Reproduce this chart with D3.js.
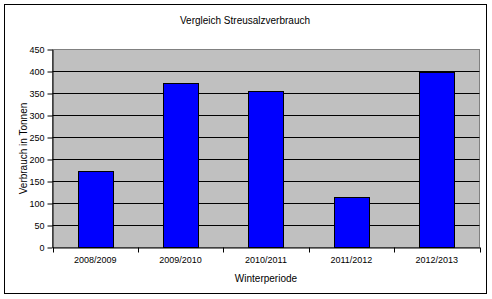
<!DOCTYPE html>
<html>
<head>
<meta charset="utf-8">
<script src="https://cdn.jsdelivr.net/npm/d3@7"></script>
<style>
  body { margin: 0; background: #fff; }
  svg text { font-family: "Liberation Sans", Arial, sans-serif; fill: #000; }
</style>
</head>
<body>
<div id="chart"></div>
<script>
const categories = ['2008/2009', '2009/2010', '2010/2011', '2011/2012', '2012/2013'];
const values = [173, 373, 355, 114, 400];
const yTicks = [0, 50, 100, 150, 200, 250, 300, 350, 400, 450];

const width = 492, height = 299;
const plot = { left: 52.5, right: 479.5, top: 49.5, bottom: 247.5 };

const svg = d3.select('#chart')
  .append('svg')
  .attr('width', width)
  .attr('height', height);

// outer frame
svg.append('rect')
  .attr('x', 4.5).attr('y', 4.5)
  .attr('width', 482).attr('height', 289)
  .style('fill', '#fff')
  .style('stroke', '#000');

const x = d3.scaleBand()
  .domain(categories)
  .range([plot.left, plot.right])
  .paddingInner(0.59)
  .paddingOuter(0.295);

const y = d3.scaleLinear()
  .domain([0, 450])
  .range([plot.bottom, plot.top]);

// plot background
svg.append('rect')
  .attr('x', plot.left).attr('y', plot.top)
  .attr('width', plot.right - plot.left)
  .attr('height', plot.bottom - plot.top)
  .style('fill', '#c0c0c0')
  .style('stroke', '#808080');

// gridlines
svg.append('g')
  .selectAll('line')
  .data(yTicks.filter(d => d > 0 && d < 450))
  .enter()
  .append('line')
  .attr('x1', plot.left).attr('x2', plot.right)
  .attr('y1', d => y(d)).attr('y2', d => y(d))
  .style('stroke', '#000')
  .style('stroke-width', 1);

// bars
svg.append('g')
  .selectAll('rect')
  .data(values)
  .enter()
  .append('rect')
  .attr('x', (d, i) => Math.round(x(categories[i])) + 0.5)
  .attr('y', d => Math.round(y(d)) + 0.5)
  .attr('width', Math.round(x.bandwidth()))
  .attr('height', d => plot.bottom - Math.round(y(d)) - 0.5)
  .style('fill', '#0000ff')
  .style('stroke', '#000');

// y axis
const yAxis = svg.append('g')
  .attr('transform', `translate(${plot.left},0)`)
  .call(d3.axisLeft(y).tickValues(yTicks).tickSize(5).tickPadding(3).tickSizeOuter(0));
yAxis.select('.domain').style('stroke', '#000');
yAxis.selectAll('.tick line').style('stroke', '#000');
yAxis.selectAll('text').style('font-size', '9px');

// x axis with ticks at category boundaries
const xAxis = svg.append('g')
  .attr('transform', `translate(0,${plot.bottom})`)
  .call(d3.axisBottom(x).tickSize(0).tickPadding(9).tickSizeOuter(0));
xAxis.select('.domain').style('stroke', '#000');
xAxis.selectAll('text').style('font-size', '9px');

const step = x.step();
const bounds = d3.range(categories.length + 1).map(i => Math.round(plot.left + i * (plot.right - plot.left) / categories.length) + 0.5);
xAxis.append('g')
  .selectAll('line')
  .data(bounds)
  .enter()
  .append('line')
  .attr('x1', d => d).attr('x2', d => d)
  .attr('y1', 0).attr('y2', 5)
  .style('stroke', '#000');

// title
svg.append('text')
  .attr('x', 245).attr('y', 24)
  .attr('text-anchor', 'middle')
  .style('font-size', '10px')
  .text('Vergleich Streusalzverbrauch');

// axis titles
svg.append('text')
  .attr('x', (plot.left + plot.right) / 2).attr('y', 282)
  .attr('text-anchor', 'middle')
  .style('font-size', '10px')
  .text('Winterperiode');

svg.append('text')
  .attr('transform', `translate(27,${(plot.top + plot.bottom) / 2}) rotate(-90)`)
  .attr('text-anchor', 'middle')
  .style('font-size', '10px')
  .text('Verbrauch in Tonnen');
</script>
</body>
</html>
